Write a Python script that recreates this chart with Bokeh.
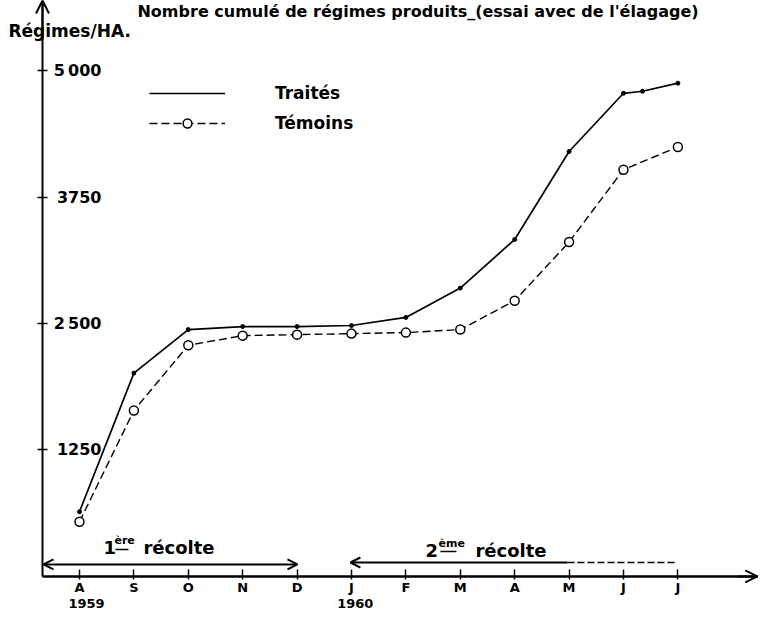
from bokeh.plotting import figure
from bokeh.models import (Range1d, FixedTicker, Label, Arrow, OpenHead, Legend,
                          LegendItem, ColumnDataSource)
from bokeh.embed import file_html
from bokeh.resources import INLINE

# ---- data ----
months = ["A", "S", "O", "N", "D", "J", "F", "M", "A", "M", "J", "J"]
month_pos = list(range(12))
traites_x = [0, 1, 2, 3, 4, 5, 6, 7, 8, 9, 10, 10.35, 11]
traites_y = [640, 2010, 2440, 2470, 2470, 2480, 2560, 2850, 3330, 4200, 4775, 4795, 4875]
temoins_x = [0, 1, 2, 3, 4, 5, 6, 7, 8, 9, 10, 11]
temoins_y = [540, 1640, 2285, 2380, 2390, 2400, 2410, 2440, 2725, 3305, 4020, 4245]
y_ticks = [1250, 2500, 3750, 5000]
y_tick_labels = ["1250", "2\u2009500", "3750", "5\u2009000"]
years = ["1959", "1960"]
year_pos = [0.13, 5.07]

FONT = "DejaVu Sans"
X0, X1 = -1.452, 12.482
Y0, Y1 = -356, 5692
AX = -0.68  # where the value axis stands

p = figure(width=758, height=612, output_backend="svg", toolbar_location=None,
           title=None, x_range=Range1d(X0, X1), y_range=Range1d(Y0, Y1),
           min_border_left=0, min_border_right=0, min_border_top=0,
           min_border_bottom=0)
p.grid.visible = False
p.outline_line_color = None
p.background_fill_color = "white"
p.border_fill_color = "white"

# x axis
p.xaxis.fixed_location = 0
p.xaxis.bounds = (AX, X1)
p.xaxis.ticker = FixedTicker(ticks=month_pos)
p.xaxis.major_label_overrides = {i: m for i, m in zip(month_pos, months)}
p.xaxis.axis_line_width = 2.5
p.xaxis.axis_line_color = "black"
p.xaxis.major_tick_line_width = 1.5
p.xaxis.major_tick_line_color = "black"
p.xaxis.major_tick_in = 7
p.xaxis.major_tick_out = 3
p.xaxis.minor_tick_line_color = None
p.xaxis.major_label_standoff = 1
p.xaxis.major_label_text_font = FONT
p.xaxis.major_label_text_font_style = "bold"
p.xaxis.major_label_text_font_size = "13px"
p.xaxis.major_label_text_color = "black"

# y axis
p.yaxis.fixed_location = AX
p.yaxis.bounds = (0, Y1)
p.yaxis.ticker = FixedTicker(ticks=y_ticks)
p.yaxis.major_label_overrides = {t: l for t, l in zip(y_ticks, y_tick_labels)}
p.yaxis.axis_line_width = 2
p.yaxis.axis_line_color = "black"
p.yaxis.major_tick_line_width = 1.5
p.yaxis.major_tick_line_color = "black"
p.yaxis.major_tick_in = 5
p.yaxis.major_tick_out = 5
p.yaxis.minor_tick_line_color = None
p.yaxis.major_label_standoff = -64
p.yaxis.major_label_text_font = FONT
p.yaxis.major_label_text_font_style = "bold"
p.yaxis.major_label_text_font_size = "16px"
p.yaxis.major_label_text_color = "black"

# series
src_t = ColumnDataSource(dict(x=traites_x, y=traites_y))
src_m = ColumnDataSource(dict(x=temoins_x, y=temoins_y))
lt = p.line("x", "y", source=src_t, line_color="black", line_width=1.7)
st = p.scatter("x", "y", source=src_t, size=4, color="black")
lm = p.line("x", "y", source=src_m, line_color="black", line_width=1.4,
            line_dash="8 4")
sm = p.scatter("x", "y", source=src_m, size=9, fill_color="white",
               line_color="black", line_width=1.5)

legend = Legend(items=[LegendItem(label="Traités", renderers=[lt]),
                       LegendItem(label="Témoins", renderers=[lm, sm])],
                location=(149, 478), glyph_width=76, glyph_height=22,
                label_height=22, label_standoff=50, spacing=8, padding=0,
                margin=0, border_line_color=None, background_fill_alpha=0,
                label_text_font=FONT, label_text_font_style="bold",
                label_text_font_size="17px", label_text_color="black")
p.add_layout(legend)

# axis arrows
p.add_layout(Arrow(start=None, end=OpenHead(size=13, line_width=2),
                   x_start=AX, y_start=5300, x_end=AX, y_end=Y1,
                   line_width=2))
p.add_layout(Arrow(start=None, end=OpenHead(size=12, line_width=2),
                   x_start=12.1, y_start=0, x_end=12.46, y_end=0,
                   line_width=2))

# harvest arrows
p.add_layout(Arrow(start=OpenHead(size=10, line_width=2),
                   end=OpenHead(size=10, line_width=2),
                   x_start=-0.662, y_start=119, x_end=4.007, y_end=119,
                   line_width=2))
p.add_layout(Arrow(start=None, end=OpenHead(size=10, line_width=2),
                   x_start=8.97, y_start=138, x_end=4.98, y_end=138,
                   line_width=2))
p.add_layout(Arrow(start=None, end=None, x_start=8.97, y_start=138,
                   x_end=10.99, y_end=138, line_width=1.6, line_dash="7 3"))


def lab(x, y, text, size="17px", align="left", baseline="middle"):
    p.add_layout(Label(x=x, y=y, text=text, text_font=FONT,
                       text_font_style="bold", text_font_size=size,
                       text_align=align, text_baseline=baseline,
                       text_color="black"))


# harvest texts
lab(0.441, 287, "1", size="18px")
lab(0.643, 356, "ère", size="11px")
p.add_layout(Arrow(start=None, end=None, x_start=0.662, y_start=267,
                   x_end=0.90, y_end=267, line_width=1.5))
lab(1.176, 287, "récolte", size="18px")
lab(6.36, 257, "2", size="18px")
lab(6.60, 326, "ème", size="11px")
p.add_layout(Arrow(start=None, end=None, x_start=6.636, y_start=247,
                   x_end=6.93, y_end=247, line_width=1.5))
lab(7.279, 257, "récolte", size="18px")

# years
for xp, yr in zip(year_pos, years):
    lab(xp, -267, yr, size="13px", align="center")

# y axis title and figure title
lab(-1.305, 5395, "Régimes/HA.")
lab(1.066, 5682, "Nombre cumulé de régimes produits_(essai avec de l'élagage)",
    size="16px", baseline="top")

open("out.html", "w").write(file_html(p, INLINE))
